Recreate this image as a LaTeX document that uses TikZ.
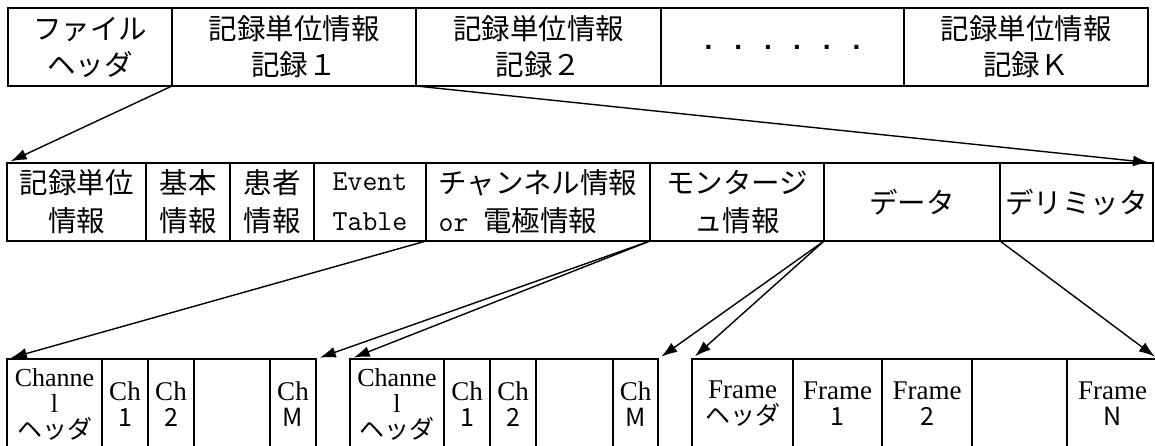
\documentclass[tikz,border=0pt]{standalone}
\usepackage{fontspec}
\setmainfont{Noto Sans CJK JP}
\newfontfamily\tmsfont{Liberation Serif}
\newfontfamily\arialfont{Liberation Sans}
\usetikzlibrary{arrows.meta}

\begin{document}
\begin{tikzpicture}
    [x=1pt,y=-1pt,
    cell/.style={rectangle,draw,line width=2.2pt,inner sep=0pt,outer sep=0pt,anchor=north west,align=center},
    toprow/.style={cell,minimum height=78pt,font=\fontsize{28.5}{36}\selectfont},
    midrow/.style={cell,minimum height=78pt,font=\fontsize{28.5}{38}\selectfont},
    lowrow/.style={cell,minimum height=90pt,font=\fontsize{25}{26}\selectfont},
    link/.style={->,>={Latex[length=16pt,width=11pt]},line width=1.4pt,shorten >=4pt}]

    \useasboundingbox (0,0) rectangle (1155,446);
    \clip (0,0) rectangle (1155,446);

    % file level
    \node[toprow,minimum width=164pt] (fhead) at (8,8)   {ファイル\\ヘッダ};
    \node[toprow,minimum width=244pt] (rec1)  at (172,8) {記録単位情報\\記録１};
    \node[toprow,minimum width=245pt] (rec2)  at (416,8) {記録単位情報\\記録２};
    \node[toprow,minimum width=243pt,font=\arialfont\bfseries\fontsize{28}{36}\selectfont] (recdots) at (661,8)
        {.\hspace{22pt}.\hspace{22pt}.\hspace{21pt}.\hspace{22pt}.\hspace{22pt}.};
    \node[toprow,minimum width=244pt] (reck)  at (904,8) {記録単位情報\\記録Ｋ};

    % record level
    \node[midrow,minimum width=139pt] (unit)    at (7,163)   {記録単位\\情報};
    \node[midrow,minimum width=84pt]  (basic)   at (146,163) {基本\\情報};
    \node[midrow,minimum width=84pt]  (patient) at (230,163) {患者\\情報};
    \node[midrow,minimum width=112pt,font=\ttfamily\fontsize{29}{40}\selectfont] (event) at (314,163) {Event\\Table};
    \node[midrow,minimum width=224pt,align=left] (chan) at (426,163) {チャンネル情報\\{\ttfamily\fontsize{29}{38}\selectfont or }電極情報};
    \node[midrow,minimum width=174pt] (mont)  at (650,163)  {モンタージ\\ュ情報};
    \node[midrow,minimum width=176pt] (data)  at (824,163)  {データ};
    \node[midrow,minimum width=153pt] (delim) at (1000,163) {デリミッタ};

    % channel / montage / frame level
    \node[lowrow,minimum width=95pt] (chhead) at (7,359)   {{\tmsfont\fontsize{26}{26}\selectfont Channe}\\{\tmsfont\fontsize{26}{26}\selectfont l}\\ヘッダ};
    \node[lowrow,minimum width=46pt] (chone)  at (102,359) {{\tmsfont\fontsize{27}{26}\selectfont Ch}\\1};
    \node[lowrow,minimum width=46pt] (chtwo)  at (148,359) {{\tmsfont\fontsize{27}{26}\selectfont Ch}\\2};
    \node[lowrow,minimum width=76pt] (chgap)  at (194,359) {};
    \node[lowrow,minimum width=46pt] (chm)    at (270,359) {{\tmsfont\fontsize{27}{26}\selectfont Ch}\\M};

    \node[lowrow,minimum width=94pt] (mthead) at (350,359) {{\tmsfont\fontsize{26}{26}\selectfont Channe}\\{\tmsfont\fontsize{26}{26}\selectfont l}\\ヘッダ};
    \node[lowrow,minimum width=46pt] (mtone)  at (444,359) {{\tmsfont\fontsize{27}{26}\selectfont Ch}\\1};
    \node[lowrow,minimum width=46pt] (mttwo)  at (490,359) {{\tmsfont\fontsize{27}{26}\selectfont Ch}\\2};
    \node[lowrow,minimum width=77pt] (mtgap)  at (536,359) {};
    \node[lowrow,minimum width=45pt] (mtm)    at (613,359) {{\tmsfont\fontsize{27}{26}\selectfont Ch}\\M};

    \node[lowrow,minimum width=101pt] (frhead) at (692,359)  {{\tmsfont\fontsize{27}{26}\selectfont Frame}\\ヘッダ};
    \node[lowrow,minimum width=89pt]  (frone)  at (793,359)  {{\tmsfont\fontsize{27}{26}\selectfont Frame}\\1};
    \node[lowrow,minimum width=90pt]  (frtwo)  at (882,359)  {{\tmsfont\fontsize{27}{26}\selectfont Frame}\\2};
    \node[lowrow,minimum width=95pt]  (frgap)  at (972,359)  {};
    \node[lowrow,minimum width=91pt]  (frn)    at (1067,359) {{\tmsfont\fontsize{27}{26}\selectfont Frame}\\N};

    \draw[link] (rec1.south west) -- (unit.north west);
    \draw[link] (rec1.south east) -- (delim.north east);
    \draw[link] (chan.south west) -- (chhead.north west);
    \draw[link] (chan.south east) -- (chm.north east);
    \draw[link] (mont.south west) -- (mthead.north west);
    \draw[link] (mont.south east) -- (mtm.north east);
    \draw[link] (data.south west) -- (frhead.north west);
    \draw[link] (data.south east) -- (frn.north east);
\end{tikzpicture}
\end{document}
